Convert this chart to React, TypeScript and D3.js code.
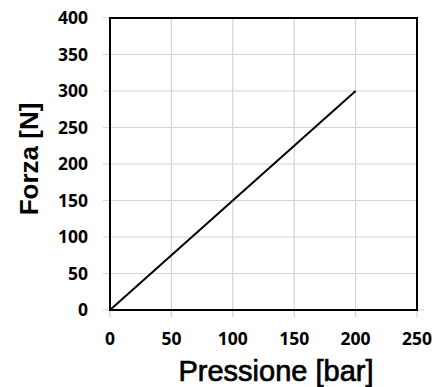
import { useRef, useEffect } from 'react'
import * as d3 from 'd3'

// pressure [bar] vs force [N]
const pressione = [0, 200]
const forza = [0, 300]
const xTicks = [0, 50, 100, 150, 200, 250]
const yTicks = [0, 50, 100, 150, 200, 250, 300, 350, 400]

const width = 436
const height = 387
const margin = { top: 18, right: 19, bottom: 77, left: 110 }

export default function App() {
  const svgRef = useRef<SVGSVGElement>(null)

  useEffect(() => {
    if (!svgRef.current) return
    const svg = d3.select(svgRef.current)
    svg.selectAll("*").remove()

    const innerWidth = width - margin.left - margin.right
    const innerHeight = height - margin.top - margin.bottom

    const x = d3.scaleLinear().domain([0, 250]).range([0, innerWidth])
    const y = d3.scaleLinear().domain([0, 400]).range([innerHeight, 0])

    svg.append("rect").attr("width", width).attr("height", height).attr("fill", "#fff")

    const g = svg.append("g")
      .attr("transform", `translate(${margin.left},${margin.top})`)

    // grid lines (extend outward as tick marks)
    g.selectAll(".hgrid")
      .data(yTicks)
      .enter()
      .append("line")
      .attr("x1", -7)
      .attr("x2", d => (d === 0 ? innerWidth + 7 : innerWidth))
      .attr("y1", d => y(d))
      .attr("y2", d => y(d))
      .attr("stroke", "#d4d4d4")
      .attr("stroke-width", 1.2)

    g.selectAll(".vgrid")
      .data(xTicks)
      .enter()
      .append("line")
      .attr("x1", d => x(d))
      .attr("x2", d => x(d))
      .attr("y1", 0)
      .attr("y2", innerHeight + 7)
      .attr("stroke", "#d4d4d4")
      .attr("stroke-width", 1.2)

    // plot border
    g.append("rect")
      .attr("width", innerWidth)
      .attr("height", innerHeight)
      .attr("fill", "none")
      .attr("stroke", "#000")
      .attr("stroke-width", 2)

    // series line
    const line = d3.line<number>()
      .x((_, i) => x(pressione[i]))
      .y(d => y(d))

    g.append("path")
      .datum(forza)
      .attr("d", line)
      .attr("fill", "none")
      .attr("stroke", "#000")
      .attr("stroke-width", 2)

    // tick labels
    const tickFont = "'Open Sans', Arial, sans-serif"
    const titleFont = "'Liberation Sans', Arial, sans-serif"

    g.selectAll(".ylab")
      .data(yTicks)
      .enter()
      .append("text")
      .attr("x", -22)
      .attr("y", d => y(d) + 6)
      .attr("text-anchor", "end")
      .attr("font-family", tickFont)
      .attr("font-weight", "bold")
      .attr("font-size", 17.5)
      .attr("fill", "#000")
      .text(d => d)

    g.selectAll(".xlab")
      .data(xTicks)
      .enter()
      .append("text")
      .attr("x", d => x(d))
      .attr("y", innerHeight + 35)
      .attr("text-anchor", "middle")
      .attr("font-family", tickFont)
      .attr("font-weight", "bold")
      .attr("font-size", 17.5)
      .attr("fill", "#000")
      .text(d => d)

    // axis titles
    svg.append("text")
      .attr("x", 276)
      .attr("y", 381)
      .attr("text-anchor", "middle")
      .attr("font-family", titleFont)
      .attr("font-size", 29)
      .attr("fill", "#000")
      .attr("stroke", "#000")
      .attr("stroke-width", 0.7)
      .text("Pressione [bar]")

    svg.append("text")
      .attr("transform", `translate(38,159) rotate(-90)`)
      .attr("text-anchor", "middle")
      .attr("font-family", titleFont)
      .attr("font-weight", "bold")
      .attr("font-size", 26)
      .attr("fill", "#000")
      .text("Forza [N]")
  }, [])

  return (
    <svg
      ref={svgRef}
      width={width}
      height={height}
      style={{ position: 'absolute', left: 0, top: 0 }}
    />
  )
}
